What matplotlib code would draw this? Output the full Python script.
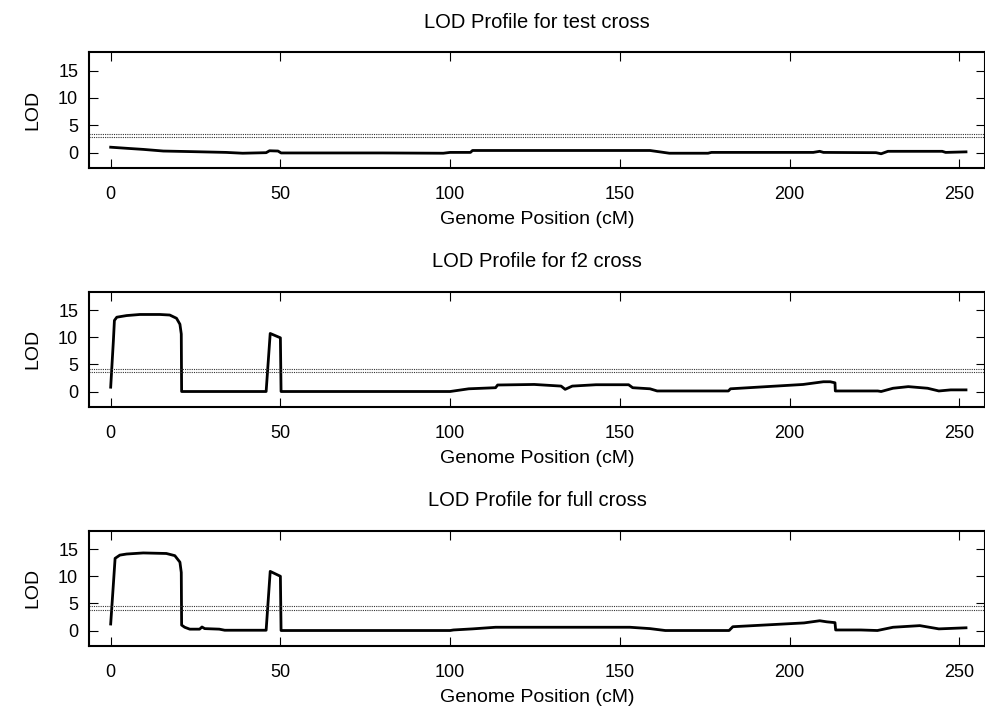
import matplotlib.pyplot as plt

plt.rcParams['font.family'] = ['Liberation Sans', 'DejaVu Sans']

# LOD profiles (position in cM, LOD score)
pos_test = [0, 4.7, 9.6, 15.5, 23.3, 34, 38.9, 45.8, 46.8, 49.3, 50.2, 80, 98, 100,
            106, 106.6, 158.9, 164.6, 176, 177, 207, 208.9, 210, 225.5, 227, 229,
            245, 246, 252]
lod_test = [1.0, 0.8, 0.6, 0.3, 0.2, 0.05, -0.1, 0.0, 0.35, 0.3, -0.05, -0.05, -0.1, 0.05,
            0.05, 0.4, 0.4, -0.1, -0.1, 0.05, 0.05, 0.25, 0.05, 0.0, -0.2, 0.25,
            0.25, 0.05, 0.15]

pos_f2 = [0, 0.8, 1.1, 1.8, 4.7, 8.6, 14.5, 17.4, 19.4, 20.4, 20.8, 20.9, 45.8, 47,
          50, 50.2, 100, 105.5, 113.4, 114, 124.8, 132.7, 133.9, 136, 143, 152.6,
          153.8, 158.9, 161, 182, 182.6, 204, 210, 212, 213.4, 213.5, 226, 227,
          230.5, 235, 240.7, 244, 247.5, 252]
lod_f2 = [0.8, 9.4, 13.1, 13.7, 14.0, 14.2, 14.2, 14.1, 13.5, 12.4, 10.6, 0.0, 0.0, 10.7,
          9.9, 0.0, 0.0, 0.5, 0.7, 1.2, 1.3, 1.0, 0.4, 1.0, 1.25, 1.25,
          0.7, 0.5, 0.1, 0.1, 0.5, 1.3, 1.8, 1.8, 1.6, 0.1, 0.1, 0.0,
          0.6, 0.9, 0.6, 0.1, 0.3, 0.3]

pos_full = [0, 0.8, 1.3, 2.7, 4.7, 9.6, 16.4, 18.9, 20.4, 20.8, 20.9, 21.8, 23.3, 26.2,
            26.9, 27.7, 32, 33.6, 45.8, 47, 50, 50.2, 100, 101, 106.6, 113.4, 153,
            158.9, 163.4, 182.2, 183.3, 204.3, 208.9, 211, 213.4, 213.6, 221, 225.9,
            230.5, 238.4, 244, 252]
lod_full = [1.2, 8.6, 13.3, 13.9, 14.1, 14.3, 14.2, 13.8, 12.6, 10.7, 1.0, 0.6, 0.25, 0.25,
            0.65, 0.35, 0.25, 0.05, 0.05, 10.9, 10.0, 0.0, 0.0, 0.1, 0.3, 0.6, 0.6,
            0.35, 0.0, 0.0, 0.7, 1.4, 1.8, 1.6, 1.45, 0.1, 0.1, 0.0,
            0.6, 0.9, 0.3, 0.5]

# significance thresholds (two per cross)
thr_test = [3.5, 2.8]
thr_f2 = [4.2, 3.6]
thr_full = [4.45, 3.75]

titles = ["LOD Profile for test cross", "LOD Profile for f2 cross", "LOD Profile for full cross"]
x_ticks = [0, 50, 100, 150, 200, 250]
y_ticks = [0, 5, 10, 15]

W, H = 985, 707
fig = plt.figure(figsize=(W / 100, H / 100), dpi=100)

# axes boxes in pixels: (top, bottom)
boxes = [(52, 168), (291.7, 406.7), (530.7, 645.7)]
left_px, right_px = 89.3, 985

panels = [(pos_test, lod_test, thr_test),
          (pos_f2, lod_f2, thr_f2),
          (pos_full, lod_full, thr_full)]

for (top, bot), (px, lod, thr), title in zip(boxes, panels, titles):
    ax = fig.add_axes([left_px / W, 1 - bot / H, (right_px - left_px) / W, (bot - top) / H])
    ax.plot(px, lod, color='black', lw=2.0, solid_joinstyle='round')
    for t in thr:
        ax.axhline(t, color='0.2', lw=0.8, linestyle=(0, (1, 1)))
    ax.set_xlim(-6.3, 257.6)
    ax.set_ylim(-2.8, 18.4)
    ax.set_xticks(x_ticks)
    ax.set_yticks(y_ticks)
    ax.tick_params(direction='in', length=6.5, width=0.8, top=True, right=True,
                   labelsize=13, color='black')
    ax.tick_params(axis='x', pad=13)
    ax.tick_params(axis='y', pad=8)
    for s in ax.spines.values():
        s.set_linewidth(1.5)
    ax.set_title(title, fontsize=14.5, pad=17.5)
    ax.set_xlabel("Genome Position (cM)", fontsize=14, labelpad=6)
    ax.set_ylabel("LOD", fontsize=14, labelpad=12)

fig.savefig("out.png", dpi=100)
